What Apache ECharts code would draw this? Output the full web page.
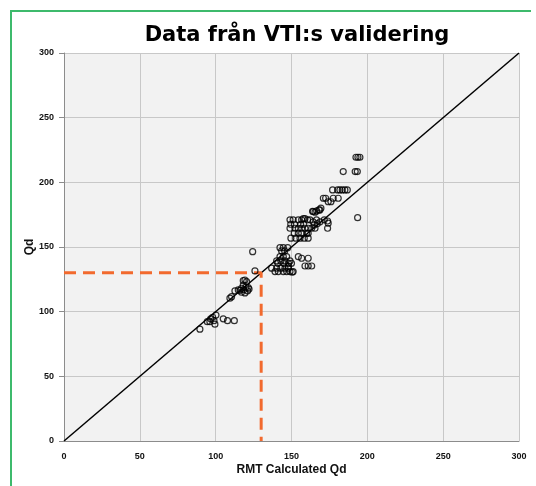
<!DOCTYPE html>
<html>
<head>
<meta charset="utf-8">
<script src="https://cdn.jsdelivr.net/npm/echarts@6/dist/echarts.min.js"></script>
<style>
  html, body { margin: 0; padding: 0; background: #fff; }
  #chart { width: 536px; height: 486px; }
</style>
</head>
<body>
<div id="chart"></div>
<script>
// RMT calculated Qd (x) against measured Qd (y)
const rmtQd = [
  89.6, 94.5, 96.2, 96.7, 98, 99.5, 100.2, 98.9, 105, 107.8, 112.3,
  109.4, 110.5, 112.7, 114.9, 117.1, 118.2, 119.3, 120.4, 118.2, 121.5, 119.3, 116, 118.5, 120, 121, 122, 117, 124.4, 125.9,
  136.9, 140.2, 143, 145.7, 147.9, 139.1, 141.3, 144.6, 146.8, 149, 151.1, 140.2, 143, 145.7, 149, 141, 145, 148, 150,
  142.4, 144.6, 146.8, 142.4, 144.6, 147.5, 143.5, 145.5, 154.5, 156.7, 161, 158.9, 161, 163.3, 150.5, 148,
  149.6, 152.8, 155.6, 158.4, 161, 151.8, 154.5, 156.7, 160, 161, 149, 152.3, 154.5, 156.7, 158.9, 161, 163.3, 165.5,
  149.5, 152, 156, 158, 149, 151.1, 154.5, 156.7, 157.8, 158.9, 160.6, 162.2, 164.3, 166.5, 168.8, 171.6, 173.8, 173.8, 174.2, 165, 167,
  164.3, 165.5, 166.6, 168.1, 169.4, 168.7, 163.9, 171, 172.5, 174.2, 176, 177.5, 180.8,
  177.1, 180.4, 181.9, 183.5, 185.2, 186.8, 184.1, 192, 193.4, 192.5, 193.8, 195.1, 193.6
];
const measuredQd = [
  86.5, 92.3, 92.3, 94.5, 95.7, 90.3, 97.4, 93, 94.5, 93, 93,
  110.4, 111.6, 116, 116.8, 118.1, 120.6, 124.5, 123.2, 124, 118.6, 114.5, 116.5, 117, 119, 116, 117.5, 115, 146.4, 131.5,
  133.6, 133.6, 133.6, 133.6, 133.6, 131, 131, 131, 131, 131, 131, 139.2, 139.2, 139.2, 139.2, 137.4, 137.4, 137.4, 137.4,
  142.5, 142.5, 142.5, 149.5, 149.5, 149.5, 147, 147, 142.5, 141.3, 141.3, 135.3, 135.3, 135.3, 130.5, 135,
  156.8, 156.8, 156.8, 156.8, 156.8, 160.6, 160.6, 160.6, 160.6, 160.6, 164.5, 164.5, 164.5, 164.5, 164.5, 164.5, 164.5, 164.5,
  167.6, 167.6, 167.6, 167.6, 171, 171, 171, 171, 172, 172, 171, 171, 169.5, 171, 169.5, 171, 170.1, 164.5, 168.4, 167, 168,
  177.4, 176.9, 177.9, 178.7, 180, 178.7, 177.6, 187.7, 187.7, 185, 185, 187.7, 187.7,
  194.1, 194.1, 194.1, 194.1, 194.1, 194.1, 208.3, 208.3, 208.3, 219.4, 219.4, 219.4, 172.7
];

// 1:1 line and the 130 threshold marker
const oneToOne = [0, 300];
const threshold = 130;
const axisTicks = [0, 50, 100, 150, 200, 250, 300];

const points = rmtQd.map((x, i) => [x, measuredQd[i]]);

const labelFont = 'Liberation Sans';

const chart = echarts.init(document.getElementById('chart'));

const option = {
  backgroundColor: '#fff',
  animation: false,
  title: {
    text: 'Data från VTI:s validering',
    left: 292,
    textAlign: 'center',
    top: 20,
    textStyle: {
      fontFamily: 'DejaVu Sans',
      fontWeight: 'bold',
      fontSize: 21,
      color: '#000'
    }
  },
  grid: {
    left: 64,
    right: 17,
    top: 53,
    bottom: 45,
    show: true,
    backgroundColor: '#f2f2f2',
    borderWidth: 0
  },
  xAxis: {
    type: 'value',
    min: axisTicks[0],
    max: axisTicks[axisTicks.length - 1],
    interval: 50,
    name: 'RMT Calculated Qd',
    nameLocation: 'middle',
    nameGap: 23,
    nameMoveOverlap: false,
    nameTextStyle: { fontFamily: labelFont, fontWeight: 'bold', fontSize: 12, color: '#111' },
    axisLine: { show: true, lineStyle: { color: '#8c8c8c', width: 1 } },
    axisTick: { show: false },
    axisLabel: { margin: 11, fontFamily: labelFont, fontWeight: 'bold', fontSize: 9, color: '#111' },
    splitLine: { show: true, lineStyle: { color: '#c8c8c8', width: 1 } }
  },
  yAxis: {
    type: 'value',
    min: axisTicks[0],
    max: axisTicks[axisTicks.length - 1],
    interval: 50,
    name: 'Qd',
    nameLocation: 'middle',
    nameGap: 28,
    nameMoveOverlap: false,
    nameTextStyle: { fontFamily: labelFont, fontWeight: 'bold', fontSize: 12, color: '#111' },
    axisLine: { show: true, lineStyle: { color: '#8c8c8c', width: 1 } },
    axisTick: { show: true, length: 5, lineStyle: { color: '#8c8c8c' } },
    axisLabel: { margin: 10, fontFamily: labelFont, fontWeight: 'bold', fontSize: 9, color: '#111' },
    splitLine: { show: true, lineStyle: { color: '#c8c8c8', width: 1 } }
  },
  graphic: [
    {
      type: 'polyline',
      shape: { points: [[11, 486], [11, 11], [531, 11]] },
      style: { stroke: '#3dba6c', lineWidth: 2, fill: null },
      silent: true
    }
  ],
  series: [
    {
      type: 'line',
      data: [[oneToOne[0], oneToOne[0]], [oneToOne[1], oneToOne[1]]],
      showSymbol: false,
      lineStyle: { color: '#000', width: 1.5 },
      z: 3
    },
    {
      type: 'line',
      data: [[0, threshold], [threshold, threshold], [threshold, 0]],
      showSymbol: false,
      lineStyle: { color: '#f26a2e', width: 3, type: [12, 7] },
      z: 4
    },
    {
      type: 'scatter',
      data: points,
      symbol: 'circle',
      symbolSize: 6,
      itemStyle: { color: 'rgba(0,0,0,0)', borderColor: '#000', borderWidth: 1.2 },
      z: 5
    }
  ]
};

chart.setOption(option);
</script>
</body>
</html>
